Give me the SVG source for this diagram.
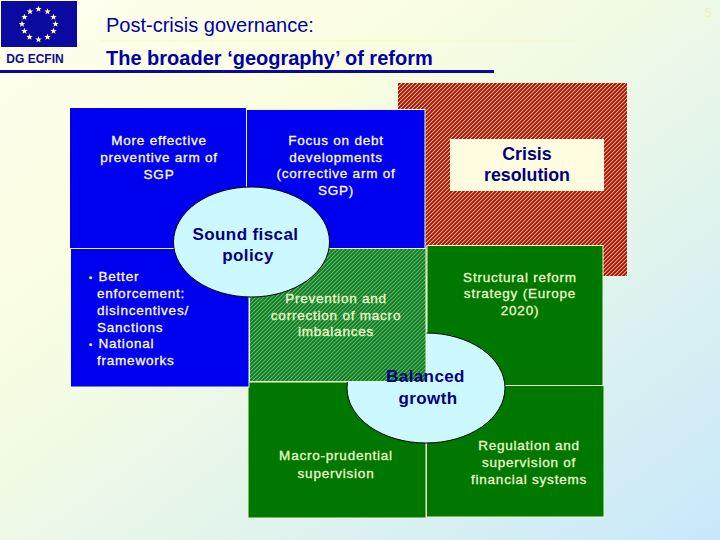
<svg xmlns="http://www.w3.org/2000/svg" width="720" height="540" viewBox="0 0 720 540">
<style>
text{font-family:"Liberation Sans",Arial,sans-serif;text-anchor:middle}
.w{fill:#eef8cc;font-size:13.5px;stroke:#eef8cc;stroke-width:.3px;letter-spacing:.78px}
.w2{fill:#fbfbe6;font-size:13.5px;stroke:#fbfbe6;stroke-width:.3px;letter-spacing:.78px}
.e{fill:#ccf8ff;stroke:#000;stroke-width:1}
.n{fill:#000080;font-size:17px;font-weight:bold;letter-spacing:.4px}
.c{fill:#000080;font-size:17.800px;font-weight:bold}
.b{stroke:#eef8d0;stroke-width:1}
.t{fill:#0000a8;font-size:20px;text-anchor:start}
.s{fill:#fff6b8}
.l{text-anchor:start}
</style>
<defs>
<linearGradient id="bg" x1="0" y1="0" x2="1" y2="1">
<stop offset="0" stop-color="#fffff0"/><stop offset=".3" stop-color="#fafee0"/><stop offset=".6" stop-color="#e6f6ea"/><stop offset="1" stop-color="#c8e8fb"/>
</linearGradient>
<pattern id="hr" width="2.830" height="2.830" patternUnits="userSpaceOnUse" patternTransform="rotate(-45)">
<rect width="2.830" height="2.830" fill="#a81008"/><rect width="2.830" height=".8" fill="#f2d0a0"/>
</pattern>
<pattern id="hg" width="2.830" height="2.830" patternUnits="userSpaceOnUse" patternTransform="rotate(-45)">
<rect width="2.830" height="2.830" fill="#0a7d1c"/><rect width="2.830" height=".7" fill="#8cc898"/>
</pattern>
<polygon id="st" points="0,-3.300 .9,-1.100 3.200,-1.100 1.400,.4 2,2.700 0,1.400 -2,2.700 -1.400,.4 -3.200,-1.100 -.9,-1.100"/>
</defs>
<rect width="720" height="540" fill="url(#bg)"/>
<g id="header">
<rect x="1" y="1" width="76" height="46" fill="#0a0aa0"/>
<g class="s">
<use href="#st" x="38.500" y="9"/><use href="#st" x="47.500" y="11.500"/><use href="#st" x="53.500" y="17"/><use href="#st" x="55.500" y="24"/><use href="#st" x="53.500" y="31"/><use href="#st" x="47.500" y="37"/><use href="#st" x="38.500" y="39.500"/><use href="#st" x="29.500" y="37"/><use href="#st" x="24.500" y="31"/><use href="#st" x="22" y="24"/><use href="#st" x="24.500" y="17"/><use href="#st" x="30" y="11.500"/>
</g>
<text x="35" y="63" style="fill:#0a0a96;font-size:12px;font-weight:bold">DG ECFIN</text>
<text x="106" y="32" class="t">Post-crisis governance:</text>
<line x1="100" y1="41" x2="575" y2="41" stroke="#f8f8b8" stroke-width="1"/>
<text x="106" y="65" class="t" style="font-weight:bold">The broader ‘geography’ of reform</text>
<rect x="0" y="70" width="494" height="3" fill="#0a0aa0"/>
<text x="708" y="17" style="fill:#f0f5a0;font-size:12px">5</text>
</g>
<g id="crisis">
<rect x="398" y="83" width="229" height="193" fill="url(#hr)"/>
<rect x="450" y="139" width="154" height="52" fill="#fffce0"/>
<text x="527" y="160" class="c">Crisis</text>
<text x="527" y="181" class="c">resolution</text>
</g>
<g id="structural">
<rect x="427" y="245.500" width="176" height="140" fill="#007800" class="b"/>
<text x="520" y="282" class="w">Structural reform</text>
<text x="520" y="298" class="w">strategy (Europe</text>
<text x="520" y="315" class="w">2020)</text>
</g>
<g id="macroprudential">
<rect x="248" y="382" width="178" height="136" fill="#007800" class="b"/>
<text x="336" y="460" class="w">Macro-prudential</text>
<text x="336" y="478" class="w">supervision</text>
</g>
<g id="regulation">
<rect x="426.500" y="385.500" width="177.500" height="131.500" fill="#007800" class="b"/>
<text x="529" y="450" class="w">Regulation and</text>
<text x="529" y="467" class="w">supervision of</text>
<text x="529" y="484" class="w">financial systems</text>
</g>
<g id="balanced-shape"><ellipse cx="426" cy="388" rx="79" ry="55" class="e"/></g>
<g id="imbalances">
<rect x="249.500" y="248.500" width="176.500" height="133" fill="url(#hg)" class="b"/>
<text x="336" y="303" class="w">Prevention and</text>
<text x="336" y="320" class="w">correction of macro</text>
<text x="336" y="336" class="w">imbalances</text>
</g>
<g id="preventive">
<rect x="70" y="108" width="176" height="140" fill="#0000f0"/>
<text x="159" y="145" class="w2">More effective</text>
<text x="159" y="162" class="w2">preventive arm of</text>
<text x="159" y="179" class="w2">SGP</text>
</g>
<g id="corrective">
<rect x="246.500" y="109.500" width="178.500" height="139" fill="#0000f0" class="b"/>
<text x="336" y="145" class="w2">Focus on debt</text>
<text x="336" y="162" class="w2">developments</text>
<text x="336" y="178" class="w2">(corrective arm of</text>
<text x="336" y="195" class="w2">SGP)</text>
</g>
<g id="enforcement">
<rect x="70.500" y="248.500" width="178.500" height="138.500" fill="#0000f0" class="b"/>
<text x="89" y="281" class="w2 l" style="font-size:9px">•</text><text x="98.500" y="281" class="w2 l">Better</text>
<text x="97" y="298" class="w2 l">enforcement:</text>
<text x="97" y="315" class="w2 l">disincentives/</text>
<text x="97" y="332" class="w2 l">Sanctions</text>
<text x="89" y="348" class="w2 l" style="font-size:9px">•</text><text x="98.500" y="348" class="w2 l">National</text>
<text x="97" y="365" class="w2 l">frameworks</text>
</g>
<g id="fiscal">
<ellipse cx="251.500" cy="242" rx="78" ry="55" class="e"/>
<text x="245.500" y="240" class="n">Sound fiscal</text>
<text x="248" y="261" class="n">policy</text>
</g>
<g id="balanced-label">
<text x="425.500" y="382" class="n">Balanced</text>
<text x="428" y="404" class="n">growth</text>
</g>
<g id="connectors"/>
</svg>
